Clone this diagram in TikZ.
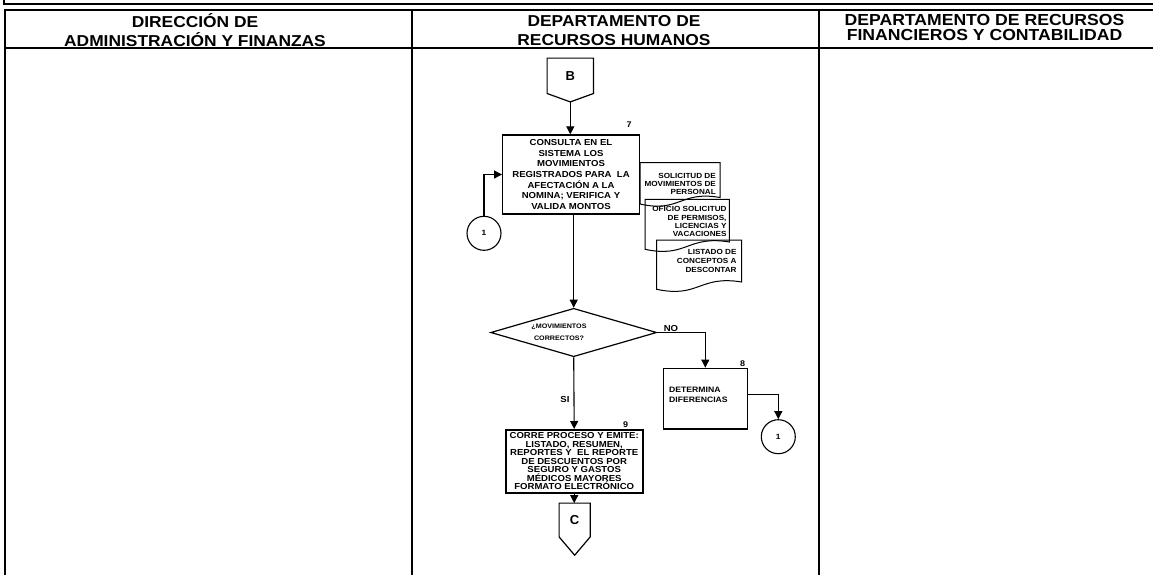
\documentclass[tikz,border=0pt]{standalone}
\usepackage{fontspec}
\setmainfont{Liberation Sans}[FakeStretch=1.1]
\newfontfamily\plainsans{Liberation Sans}
\usetikzlibrary{arrows.meta,shapes.geometric,calc}
\newcommand\mydoc[5]{\draw[docline] (#1,#2) -- (#1,#4) .. controls ({(#1+#3)/2},{#4+9}) and ({(#1+#3)/2},{#5-7}) .. (#3,#5) -- (#3,#2) -- cycle;}
\begin{document}
\begin{tikzpicture}[x=1pt,y=-1pt,
  frame/.style={line width=2pt},
  thinframe/.style={line width=1.4pt},
  conn/.style={line width=1.1pt,-{Triangle[length=8pt,width=8pt]}},
  shapeline/.style={line width=1.2pt},
  docline/.style={line width=1pt},
  hdr/.style={align=center,inner sep=0,font=\fontsize{15.8}{19}\selectfont\bfseries},
  hdrb/.style={align=center,inner sep=0,font=\fontsize{16}{14.6}\selectfont\bfseries},
  procbox/.style={draw,line width=1.3pt,inner sep=0,align=center},
  offpage/.style={inner sep=0,font=\plainsans\fontsize{13}{15}\selectfont\bfseries},
  conncircle/.style={circle,draw,line width=1.1pt,minimum size=34,inner sep=0,font=\fontsize{7.6}{9}\selectfont\bfseries},
  num/.style={inner sep=0,font=\fontsize{8.2}{9}\selectfont\bfseries},
  lbl/.style={inner sep=0,font=\fontsize{8.7}{10}\selectfont\bfseries},
  doctext/.style={inner sep=0,align=right,anchor=east},
]
\useasboundingbox (0,0) rectangle (1153,574);
\clip (0,0) rectangle (1153,574);

% frame
\draw[thinframe] (4,-2) -- (4,4) -- (1156,4);
\draw[frame] (1156,10) -- (5,10) -- (5,577);
\draw[frame] (5,47.5) -- (1156,47.5);
\draw[frame] (411.5,10) -- (411.5,577);
\draw[frame] (818.5,10) -- (818.5,577);

% headers
\node[hdr] (h1) at (195,30) {DIRECCIÓN DE\\ADMINISTRACIÓN Y FINANZAS};
\node[hdr] (h2) at (614,31) {DEPARTAMENTO DE\\RECURSOS HUMANOS};
\node[hdrb] (h3) at (984.5,27.5) {DEPARTAMENTO DE RECURSOS\\FINANCIEROS Y CONTABILIDAD};

% off-page connector B
\node[offpage,minimum width=46,minimum height=35] (B) at (570.3,75.8) {B};
\draw[shapeline] (B.north west) -- (B.north east) -- (B.south east) -- ($(B.south)+(0,8.4)$) -- (B.south west) -- cycle;
\coordinate (Btip) at ($(B.south)+(0,8.4)$);

% process 7
\node[procbox,minimum width=136.6,minimum height=79,font=\fontsize{8.7}{10.7}\selectfont\bfseries] (p7) at (571,174.5)
  {CONSULTA EN EL\\SISTEMA LOS\\MOVIMIENTOS\\REGISTRADOS PARA~~LA\\AFECTACIÓN A LA\\NOMINA; VERIFICA Y\\VALIDA MONTOS};
\node[num] (n7) at (629,125) {7};

% connector 1 (left)
\node[conncircle] (c1a) at (484,233.3) {1};

% documents
\mydoc{640}{162.7}{720}{204}{197.5}
\mydoc{645}{199.3}{729.3}{249.3}{242}
\mydoc{656.7}{240}{741.7}{289.3}{282}
\node[doctext,font=\fontsize{7.4}{8.2}\selectfont\bfseries] (d1) at (716,183.8) {SOLICITUD DE\\MOVIMIENTOS DE\\PERSONAL};
\node[doctext,font=\fontsize{7.4}{8.3}\selectfont\bfseries] (d2) at (726.7,221.8) {OFICIO SOLICITUD\\DE PERMISOS,\\LICENCIAS Y\\VACACIONES};
\node[doctext,font=\fontsize{7.4}{8.8}\selectfont\bfseries] (d3) at (736.7,261) {LISTADO DE\\CONCEPTOS A\\DESCONTAR};

% decision
\node[diamond,draw,shapeline,minimum width=166,minimum height=48.4,inner sep=0] (dec) at (573.7,332.5) {};
\node[inner sep=0,align=center,font=\fontsize{6.5}{11.6}\selectfont\bfseries] (dect) at (559,332.5) {¿MOVIMIENTOS\\CORRECTOS?};
\node[lbl] (no) at (671,328) {NO};
\node[lbl] (si) at (565,399) {SI};

% process 8
\node[procbox,minimum width=84,minimum height=60.7] (p8) at (705.3,398.65) {};
\node[inner sep=0,align=left,anchor=west,font=\fontsize{7.85}{10}\selectfont\bfseries] (p8t) at (669,395) {DETERMINA\\DIFERENCIAS};
\node[num] (n8) at (742.7,363.3) {8};

% connector 1 (right)
\node[conncircle] (c1b) at (778.3,436.7) {1};

% process 9
\node[procbox,line width=2pt,minimum width=137,minimum height=62.7,font=\fontsize{8.7}{8.5}\selectfont\bfseries] (p9) at (574.2,461.35)
  {CORRE PROCESO Y EMITE:\\LISTADO, RESUMEN,\\REPORTES Y~~EL REPORTE\\DE DESCUENTOS POR\\SEGURO Y GASTOS\\MÉDICOS MAYORES\\FORMATO ELECTRÓNICO};
\node[num] (n9) at (625.7,424.3) {9};

% off-page connector C
\node[offpage,minimum width=30.7,minimum height=33.4] (C) at (574.65,520) {C};
\draw[shapeline] (C.north west) -- (C.north east) -- (C.south east) -- ($(C.south)+(0,18.3)$) -- (C.south west) -- cycle;

% connectors
\draw[conn] (Btip) -- (Btip |- p7.north);
\draw[conn] (c1a.north) |- (p7.west);
\draw[conn] (dec.north |- p7.south) -- (dec.north);
\draw[conn] (dec.east) -| (p8.north);
\draw[conn] (dec.south) -- (p9.north);
\draw[conn] ([yshift=4.3pt]p8.east) -| (c1b.north);
\draw[conn] (p9.south) -- (p9.south |- C.north);
\end{tikzpicture}
\end{document}
